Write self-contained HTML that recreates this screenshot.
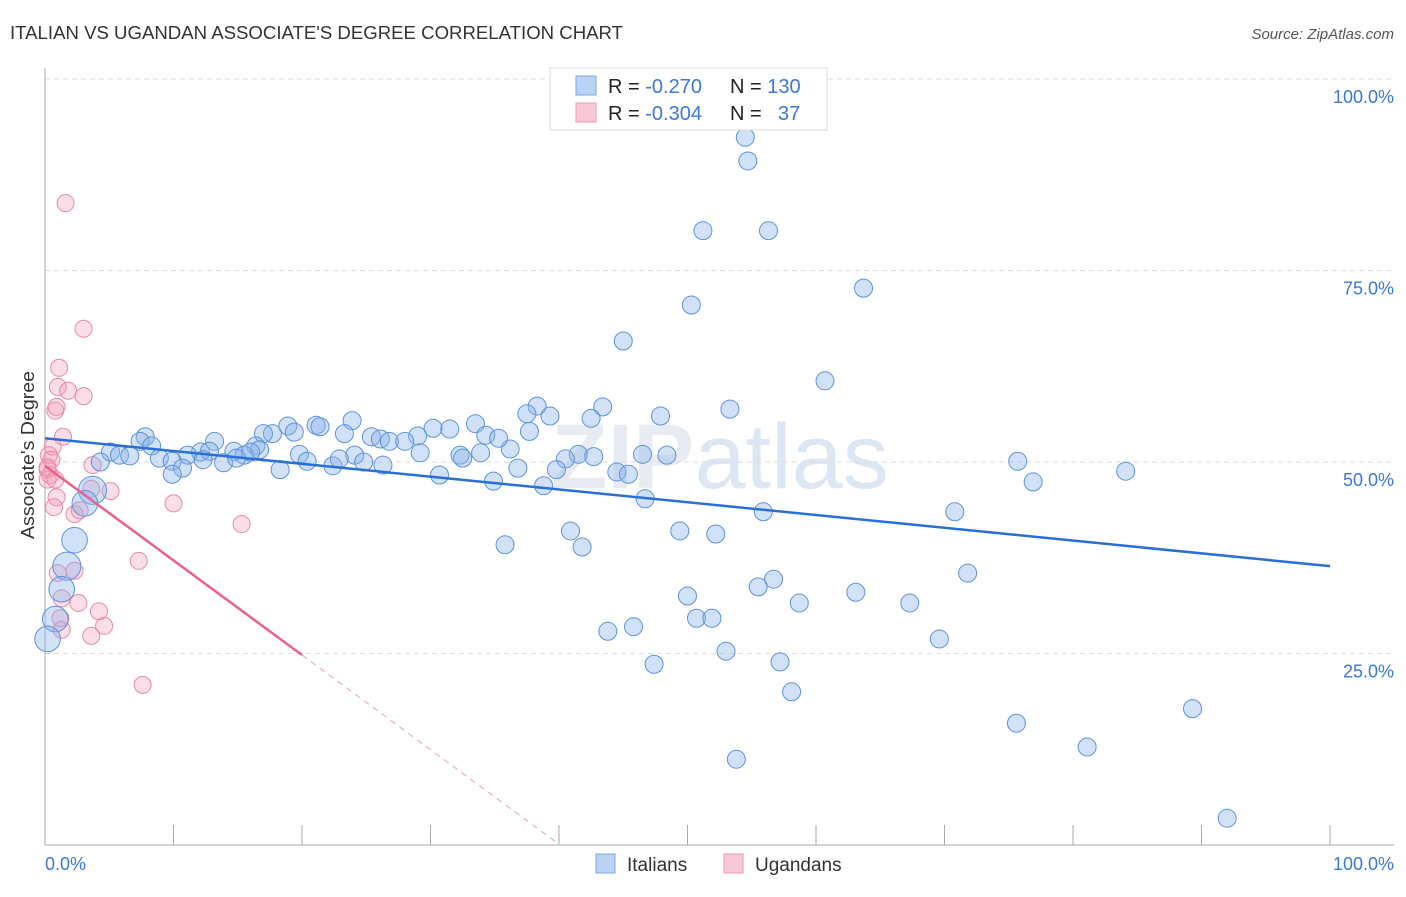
<!DOCTYPE html>
<html><head><meta charset="utf-8"><style>
body{margin:0;background:#fff;font-family:"Liberation Sans",sans-serif}
</style></head><body>
<svg id="chart" width="1406" height="892" viewBox="0 0 1406 892" xmlns="http://www.w3.org/2000/svg">
<text x="10" y="39" font-size="18" fill="#333" textLength="613" lengthAdjust="spacingAndGlyphs">ITALIAN VS UGANDAN ASSOCIATE'S DEGREE CORRELATION CHART</text>
<text x="1394" y="39" font-size="15" fill="#555" font-style="italic" text-anchor="end">Source: ZipAtlas.com</text>
<text x="720" y="488" font-size="92" fill="#e8ecf2" text-anchor="middle" font-weight="bold">ZIP<tspan font-weight="normal" fill="#dde7f4">atlas</tspan></text>
<g id="grid"></g><g id="axes"></g>
<g id="pts"></g><g id="lines"></g>
<text transform="translate(34,455) rotate(-90)" font-size="18" fill="#333" text-anchor="middle" textLength="168" lengthAdjust="spacingAndGlyphs">Associate's Degree</text>
<g>
<rect x="550" y="68" width="277" height="62" fill="#fff" stroke="#ddd"/>
<rect x="576" y="76" width="20" height="19" fill="#b9d3f3" stroke="#7ea7df"/>
<rect x="576" y="103" width="20" height="19" fill="#f9c8d6" stroke="#ec9ab2"/>
<text x="608" y="93" font-size="20" fill="#222">R = <tspan fill="#3b78d8">-0.270</tspan><tspan x="730">N = </tspan><tspan fill="#3b78d8">130</tspan></text>
<text x="608" y="120" font-size="20" fill="#222">R = <tspan fill="#3b78d8">-0.304</tspan><tspan x="730">N = </tspan><tspan fill="#3b78d8" x="778">37</tspan></text>
</g>
<g>
<rect x="596" y="854" width="19" height="19" fill="#b9d3f3" stroke="#7ea7df"/>
<text x="627" y="871" font-size="19" fill="#333">Italians</text>
<rect x="724" y="854" width="19" height="19" fill="#f9c8d6" stroke="#ec9ab2"/>
<text x="755" y="871" font-size="19" fill="#333">Ugandans</text>
</g>
</svg>
<script>
const blueX=[54.5,54.7,51.2,56.3,63.7,50.3,45.0,60.7,53.3,47.9,43.4,38.3,37.5,39.3,42.5,33.5,23.9,21.1,18.9,21.4,30.2,37.7,31.5,34.3,29.0,17.7,17.0,19.4,25.4,26.1,26.8,28.0,23.3,13.2,7.8,7.4,8.3,16.4,16.7,14.7,12.1,12.8,15.5,16.0,11.1,19.8,24.1,29.2,32.3,33.9,36.2,41.5,42.7,46.5,48.4,40.5,35.3,5.1,5.8,8.9,9.9,10.7,6.6,4.3,12.3,13.9,14.9,20.4,22.4,22.9,24.8,26.3,32.5,36.8,39.8,44.5,45.4,18.3,9.9,30.7,34.9,38.8,46.7,75.7,76.9,84.1,55.9,70.8,49.4,52.2,40.9,35.8,41.8,71.8,56.7,55.5,63.1,50.0,58.7,67.3,50.7,51.9,43.8,45.8,69.6,53.0,47.4,57.2,58.1,75.6,89.3,81.1,53.8,92.0,3.7,3.1,2.3,1.7,1.3,0.8,0.2];
const blueY=[92.4,89.3,80.2,80.2,72.7,70.5,65.8,60.6,56.9,56.0,57.2,57.3,56.3,56.0,55.7,55.0,55.4,54.8,54.7,54.6,54.4,54.0,54.3,53.5,53.4,53.7,53.7,53.9,53.3,53.0,52.7,52.7,53.7,52.7,53.3,52.7,52.1,52.1,51.6,51.4,51.3,51.4,50.9,51.3,50.9,51.0,50.9,51.2,50.9,51.2,51.7,51.0,50.7,51.0,50.9,50.4,53.1,51.3,50.9,50.5,50.1,49.2,50.8,50.0,50.3,49.9,50.5,50.1,49.5,50.4,50.0,49.6,50.5,49.2,49.0,48.7,48.4,49.0,48.4,48.3,47.5,46.9,45.2,50.1,47.4,48.8,43.5,43.5,41.0,40.6,41.0,39.2,38.9,35.5,34.7,33.7,33.0,32.5,31.6,31.6,29.6,29.6,27.9,28.5,26.9,25.3,23.6,23.9,20.0,15.9,17.8,12.8,11.2,3.5,46.3,44.6,39.8,36.4,33.4,29.5,26.9];
const blueN=[1,1,1,1,1,1,1,1,1,1,1,1,1,1,1,1,1,1,1,1,1,1,1,1,1,1,1,1,1,1,1,1,1,1,1,1,1,1,1,1,1,1,1,1,1,1,1,1,1,1,1,1,1,1,1,1,1,1,1,1,1,1,1,1,1,1,1,1,1,1,1,1,1,1,1,1,1,1,1,1,1,1,1,1,1,1,1,1,1,1,1,1,1,1,1,1,1,1,1,1,1,1,1,1,1,1,1,1,1,1,1,1,1,1,3,2.5,2.5,3,2.5,2.5,2.5];
const pinkX=[1.6,3.0,1.1,1.0,1.8,3.0,0.8,0.9,1.4,0.6,0.3,0.5,0.2,0.4,0.2,0.8,3.6,5.1,0.9,0.7,2.3,2.7,10.0,15.3,7.3,1.0,2.3,1.3,4.2,2.6,4.6,1.3,3.6,7.6,1.2,0.2,3.7];
const pinkY=[83.8,67.4,62.3,59.8,59.3,58.6,56.7,57.2,53.3,52.0,50.9,50.3,49.0,48.3,47.7,47.7,46.5,46.2,45.4,44.1,43.2,43.7,44.6,41.9,37.1,35.5,35.8,32.2,30.5,31.6,28.6,28.1,27.3,20.9,29.6,49.3,49.6];
const blueTrend=[53.1,36.4];
const pinkTrend=[49.5,-1.235];
const yTicks=[25,50,75,100];
const xTickVals=[0,10,20,30,40,50,60,70,80,90,100];
const NS="http://www.w3.org/2000/svg";
const X=v=>45+v*12.85, Y=v=>845-v*7.66;
function mk(tag,attrs,parent){const e=document.createElementNS(NS,tag);for(const k in attrs)e.setAttribute(k,attrs[k]);document.getElementById(parent).appendChild(e);return e;}
yTicks.forEach(t=>{
 const l=mk('line',{x1:45,x2:1394,y1:Y(t),y2:Y(t),stroke:'#ddd','stroke-dasharray':'5,4'},'grid');
 
 
 const tx=mk('text',{x:1394,y:Y(t)+24,'font-size':18,fill:'#3b78d8','text-anchor':'end'},'grid');tx.textContent=t.toFixed(1)+'%';
 
 
});
const ax=mk('line',{x1:45,x2:45,y1:68,y2:845,stroke:'#aaa'},'axes');


const bx=mk('line',{x1:45,x2:1394,y1:845,y2:845,stroke:'#aaa'},'axes');


xTickVals.forEach(t=>{const l=mk('line',{x1:X(t),x2:X(t),y1:825,y2:845,stroke:'#aaa'},'axes');
 
 });
[[0,'start',45],[100,'end',1394]].forEach(([v,a,px])=>{const t=mk('text',{x:px,y:870,'font-size':18,fill:'#3b78d8','text-anchor':a},'axes');t.textContent=v.toFixed(1)+'%';
 
 });
pinkX.forEach((v,i)=>{const c=mk('circle',{cx:X(v),cy:Y(pinkY[i]),r:8.5,fill:'rgba(244,160,185,0.35)',stroke:'#e98aa7','stroke-width':1},'pts');
 
 });
blueX.forEach((v,i)=>{const c=mk('circle',{cx:X(v),cy:Y(blueY[i]),r:9*Math.sqrt(blueN[i])*0.9+ (blueN[i]>1?0:0.9),fill:'rgba(140,180,235,0.4)',stroke:'#5d93dc','stroke-width':1},'pts');
 
 });
const bl=mk('line',{x1:X(0),y1:Y(blueTrend[0]),x2:X(100),y2:Y(blueTrend[1]),stroke:'#2a6fd6','stroke-width':2.5},'lines');


const pl=mk('line',{x1:X(0),y1:Y(pinkTrend[0]),x2:X(20),y2:Y(pinkTrend[0]+20*pinkTrend[1]),stroke:'#e8628c','stroke-width':2.5},'lines');


const x0=-pinkTrend[0]/pinkTrend[1];
const pd=mk('line',{x1:X(20),y1:Y(pinkTrend[0]+20*pinkTrend[1]),x2:X(x0),y2:Y(0),stroke:'#e8a0b8','stroke-width':1,'stroke-dasharray':'6,5'},'lines');


</script>
</body></html>
